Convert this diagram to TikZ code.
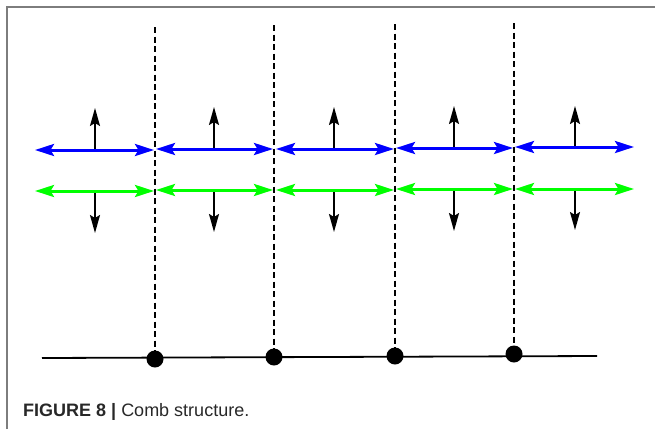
\documentclass[tikz,border=0pt]{standalone}
\usepackage{fontspec}
\setmainfont{Liberation Sans}
\usetikzlibrary{arrows.meta}
\definecolor{framegray}{RGB}{125,125,125}
\definecolor{capgray}{RGB}{40,40,40}
\definecolor{pureblue}{RGB}{0,0,255}
\definecolor{puregreen}{RGB}{0,255,0}
\begin{document}
\begin{tikzpicture}[x=1pt,y=-1pt,
  frameline/.style={draw=framegray, line width=1.5pt},
  sepline/.style={draw=black, line width=1.5pt, dash pattern=on 6pt off 3.5pt},
  baseline/.style={draw=black, line width=1.8pt},
  dotnode/.style={circle, fill=black, inner sep=0pt, minimum size=17pt},
  bluearrow/.style={draw=pureblue, line width=3pt, {Stealth[length=19pt,width=12pt,inset=3.5pt]}-{Stealth[length=19pt,width=12pt,inset=3.5pt]}},
  greenarrow/.style={draw=puregreen, line width=3pt, {Stealth[length=19pt,width=12pt,inset=3.5pt]}-{Stealth[length=19pt,width=12pt,inset=3.5pt]}},
  vertarrow/.style={draw=black, line width=1.8pt, -{Stealth[length=18pt,width=10pt,inset=3pt]}},
  captext/.style={anchor=base west, inner sep=0pt, text=capgray, font=\fontsize{18}{21}\selectfont}
]
\useasboundingbox (0,0) rectangle (655,429);
% frame
\coordinate (fa) at (7,429);
\coordinate (fb) at (7,7);
\coordinate (fc) at (655,7);
\draw[frameline] (fa) -- (fb) -- (fc);
% bottom line
\coordinate (bl) at (42,358);
\coordinate (br) at (597,356);
\draw[baseline] (bl) -- (br);
% dashed separators and dots
\foreach \i/\x/\yt/\yd in {1/155/27/359, 2/274/25/357, 3/395/24/356, 4/514/23/354}{
  \coordinate (t\i) at (\x,\yt);
  \node[dotnode] (d\i) at (\x,\yd) {};
  \draw[sepline] (t\i) -- (d\i.center);
}
% horizontal double arrows and vertical arrows
\foreach \i/\xa/\xb/\xm/\yb/\yg/\yu/\yd in {
  1/35/154/95/150/191/108/233,
  2/156/273/214/149/190/107/232,
  3/276/394/334/149/190/107/232,
  4/396/513/454/148/189/106/231,
  5/515/634/575/147/189/106/230}{
  \coordinate (bs\i) at (\xa,\yb);
  \coordinate (be\i) at (\xb,\yb);
  \coordinate (gs\i) at (\xa,\yg);
  \coordinate (ge\i) at (\xb,\yg);
  \coordinate (um\i) at (\xm,\yb);
  \coordinate (ut\i) at (\xm,\yu);
  \coordinate (gm\i) at (\xm,\yg);
  \coordinate (dt\i) at (\xm,\yd);
  \draw[vertarrow] (um\i) -- (ut\i);
  \draw[vertarrow] (gm\i) -- (dt\i);
  \draw[bluearrow] (bs\i) -- (be\i);
  \draw[greenarrow] (gs\i) -- (ge\i);
}
% caption
\node[captext] (cap) at (23,416) {\textbf{FIGURE 8 |} Comb structure.};
\end{tikzpicture}
\end{document}
